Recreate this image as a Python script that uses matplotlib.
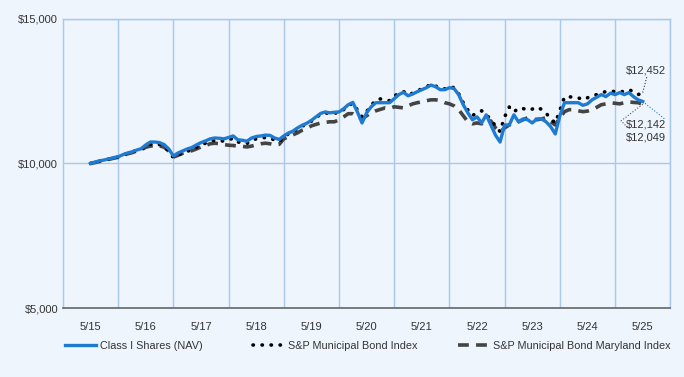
import numpy as np
import matplotlib
matplotlib.use("Agg")
import matplotlib.pyplot as plt

plt.rcParams['font.family'] = ['Liberation Sans', 'DejaVu Sans']

# monthly values, May 2015 .. May 2025
class_i = [10000, 10050, 10090, 10120, 10160, 10200, 10230, 10300, 10360, 10400, 10460, 10510,
           10640, 10740, 10740, 10720, 10650, 10500, 10260, 10360, 10430, 10500, 10550, 10640,
           10720, 10780, 10850, 10880, 10870, 10850, 10900, 10950, 10820, 10800, 10770, 10880,
           10930, 10950, 10980, 10970, 10880, 10830, 10950, 11050, 11120, 11230, 11320, 11390,
           11490, 11610, 11730, 11780, 11750, 11770, 11780, 11890, 12030, 12110, 11780, 11400,
           11750, 11960, 12100, 12100, 12100, 12100, 12240, 12380, 12460, 12340, 12400, 12480,
           12550, 12620, 12710, 12650, 12550, 12550, 12620, 12590, 12380, 12030, 11750, 11510,
           11610, 11400, 11680, 11330, 10980, 10740, 11330, 11330, 11680, 11440, 11540, 11510,
           11400, 11540, 11540, 11440, 11270, 11020, 11650, 12100, 12100, 12100, 12100, 12010,
           12060, 12200, 12290, 12380, 12310, 12430, 12380, 12450, 12380, 12450, 12310, 12200,
           12142]
sp_muni = [10000, 10040, 10080, 10110, 10150, 10190, 10220, 10290, 10350, 10390, 10450, 10500,
           10560, 10660, 10670, 10650, 10580, 10430, 10200, 10290, 10360, 10420, 10470, 10560,
           10640, 10700, 10770, 10800, 10790, 10770, 10820, 10870, 10740, 10720, 10690, 10800,
           10850, 10870, 10900, 10890, 10800, 10750, 10920, 11020, 11090, 11200, 11290, 11360,
           11460, 11580, 11700, 11750, 11720, 11740, 11750, 11860, 12000, 12080, 11850, 11610,
           11800, 12000, 12200, 12230, 12210, 12170, 12340, 12410, 12490, 12370, 12430, 12510,
           12580, 12650, 12740, 12680, 12580, 12580, 12650, 12620, 12410, 12100, 11850, 11650,
           11760, 11820, 11700, 11500, 11300, 11100, 11610, 11950, 11780, 11910, 11900, 11840,
           11880, 11950, 11870, 11740, 11540, 11400, 11840, 12300, 12300, 12300, 12270, 12200,
           12270, 12340, 12380, 12450, 12480, 12510, 12480, 12450, 12510, 12550, 12480, 12380,
           12452]
md_index = [10000, 10030, 10070, 10100, 10140, 10180, 10210, 10270, 10330, 10370, 10430, 10470,
            10560, 10600, 10620, 10610, 10560, 10430, 10220, 10280, 10350, 10400, 10440, 10500,
            10570, 10620, 10680, 10700, 10680, 10650, 10630, 10620, 10600, 10590, 10570, 10600,
            10640, 10680, 10700, 10680, 10640, 10660, 10850, 10920, 10990, 11060, 11150, 11210,
            11300, 11350, 11400, 11420, 11440, 11440, 11510, 11610, 11720, 11720, 11610, 11540,
            11650, 11750, 11820, 11870, 11920, 11900, 11960, 11940, 11920, 11990, 12060, 12100,
            12130, 12170, 12200, 12200, 12170, 12100, 12060, 11990, 11860, 11650, 11440, 11370,
            11400, 11370, 11440, 11470, 11230, 11090, 11230, 11330, 11400, 11440, 11510, 11580,
            11540, 11510, 11540, 11580, 11440, 11330, 11580, 11790, 11860, 11860, 11820, 11790,
            11810, 11860, 11940, 12030, 12060, 12100, 12080, 12060, 12100, 12130, 12110, 12100,
            12049]
years = ['5/15', '5/16', '5/17', '5/18', '5/19', '5/20', '5/21', '5/22', '5/23', '5/24', '5/25']
y_ticks = [5000, 10000, 15000]

bg = '#eef5fd'
grid_c = '#a9c7f0'
blue = '#1f7bd2'
dash_c = '#444444'
txt_c = '#333333'

fig = plt.figure(figsize=(6.84, 3.77), dpi=100, facecolor=bg)
ax = fig.add_axes([0.092, 0.183, 0.888, 0.767])
ax.set_facecolor(bg)

months = np.arange(len(class_i))
l_md, = ax.plot(months, md_index, color=dash_c, lw=2.6, linestyle=(0, (3, 2)), zorder=3)
l_sp, = ax.plot(months, sp_muni, color='black', lw=2.6, linestyle=(0, (0.1, 2.4)),
                dash_capstyle='round', zorder=4)
l_ci, = ax.plot(months, class_i, color=blue, lw=2.4, zorder=5)

ax.set_xlim(-6, len(years) * 12 - 6)
ax.set_ylim(5000, 15000)
ax.set_xticks(np.arange(len(years)) * 12)
ax.set_xticklabels(years)
ax.set_xticks(np.arange(len(years)) * 12 + 6, minor=True)
ax.set_yticks(y_ticks)
ax.set_yticklabels(['$' + format(v, ',') for v in y_ticks])
ax.tick_params(axis='both', which='both', length=0, labelsize=8, colors=txt_c)
ax.tick_params(axis='x', pad=10)
ax.grid(True, which='minor', axis='x', color=grid_c, lw=1)
ax.grid(True, which='major', axis='y', color=grid_c, lw=1)
for s in ['top', 'left', 'right']:
    ax.spines[s].set_color(grid_c)
    ax.spines[s].set_linewidth(1)
ax.spines['bottom'].set_color('#666666')
ax.spines['bottom'].set_linewidth(1.2)

# end labels with leader lines
last = len(class_i) - 1
ax.plot([last, last + 0.9], [sp_muni[-1], 13000], color=txt_c, lw=0.8, ls=':')
ax.text(last + 0.6, 13210, '$' + format(sp_muni[-1], ','), fontsize=8, color=txt_c, ha='center', va='center')
ax.plot([last, last + 5.0], [class_i[-1], 11510], color=blue, lw=0.8, ls=':')
ax.plot([last, last - 4.7, last - 3.2], [md_index[-1], 11470, 11230], color='#555555', lw=0.8, ls=':')
ax.text(last + 0.6, 11340, '$' + format(class_i[-1], ','), fontsize=8, color=txt_c, ha='center', va='center')
ax.text(last + 0.6, 10890, '$' + format(md_index[-1], ','), fontsize=8, color=txt_c, ha='center', va='center')

# legend, one entry per block
entries = [(l_ci, 'Class I Shares (NAV)', 65), (l_sp, 'S&P Municipal Bond Index', 253),
           (l_md, 'S&P Municipal Bond Maryland Index', 458)]
for handle, label, x0 in entries:
    leg = fig.legend([handle], [label], loc='center left', bbox_to_anchor=(x0 / 684, 1 - 346 / 377),
                     frameon=False, fontsize=7.8, handlelength=2.9, handletextpad=0.37,
                     borderpad=0, borderaxespad=0)
    for t in leg.get_texts():
        t.set_color(txt_c)

fig.savefig('out.png', dpi=100, facecolor=bg)
